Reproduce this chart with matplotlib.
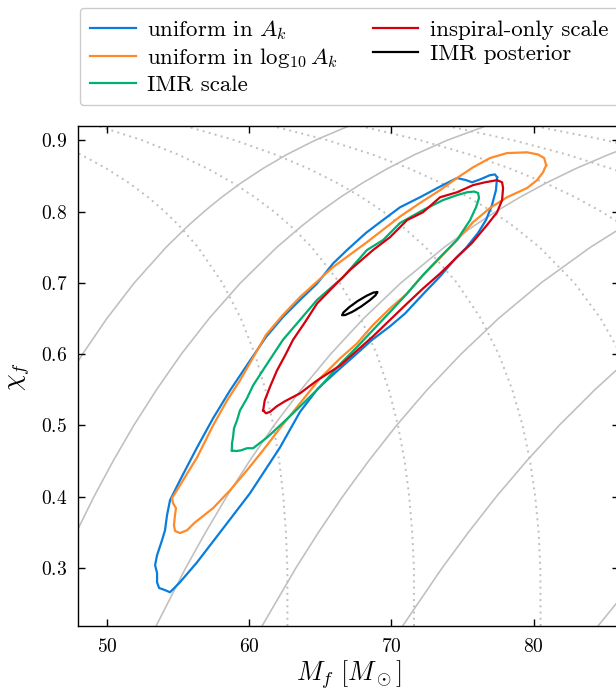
import numpy as np
import matplotlib.pyplot as plt

plt.rcParams['font.family'] = 'serif'
plt.rcParams['font.serif'] = ['cmr10']
plt.rcParams['mathtext.fontset'] = 'cm'
plt.rcParams['axes.formatter.use_mathtext'] = True

# posterior contours (M_f, chi_f)
blue_M = [77.44, 77.36, 77.08, 76.66, 76.10, 75.26, 74.55, 73.43, 72.23, 70.97, 69.91, 68.65,
          67.59, 66.40, 64.85, 63.58, 62.17, 60.07, 57.96, 56.34, 55.14, 54.44,
          54.09, 53.67, 53.53, 53.53, 53.39, 53.53, 53.88, 54.09, 54.23, 54.44,
          55.14, 56.34, 57.47, 58.66, 60.07, 61.19, 62.38, 63.58, 64.78, 65.90, 66.89,
          68.22, 69.21, 70.62, 72.02, 73.43, 74.62, 75.26, 75.68, 76.24, 76.94, 77.29, 77.44]
blue_chi = [0.848, 0.830, 0.809, 0.788, 0.770, 0.749, 0.735, 0.709, 0.684, 0.657, 0.639, 0.620,
            0.601, 0.580, 0.552, 0.519, 0.469, 0.405, 0.350, 0.308, 0.280, 0.266,
            0.269, 0.272, 0.280, 0.293, 0.304, 0.318, 0.339, 0.353, 0.374, 0.395,
            0.423, 0.469, 0.510, 0.549, 0.591, 0.624, 0.652, 0.676, 0.699, 0.727, 0.746,
            0.770, 0.785, 0.806, 0.820, 0.835, 0.847, 0.844, 0.841, 0.845, 0.851, 0.852, 0.848]

orange_M = [80.89, 80.67, 80.25, 79.55, 78.14, 76.94, 75.75, 74.62, 73.43, 72.02, 71.11, 69.91,
            68.72, 67.59, 66.40, 64.99, 63.58, 62.17, 60.98, 59.85, 58.66, 57.47, 56.20,
            55.64, 55.14, 54.79, 54.72, 54.79, 54.86, 54.65, 54.58,
            55.14, 56.34, 57.47, 58.45, 59.36, 61.19, 62.38, 63.58, 65.90, 68.29, 70.62,
            72.02, 73.43, 74.62, 75.75, 76.94, 78.14, 79.55, 80.32, 80.75, 80.89]
orange_chi = [0.865, 0.855, 0.844, 0.833, 0.820, 0.805, 0.785, 0.760, 0.735, 0.706, 0.685, 0.664,
              0.641, 0.615, 0.594, 0.566, 0.531, 0.496, 0.465, 0.437, 0.409, 0.384, 0.364,
              0.353, 0.349, 0.352, 0.360, 0.374, 0.384, 0.391, 0.398,
              0.416, 0.455, 0.500, 0.535, 0.563, 0.627, 0.655, 0.680, 0.722, 0.757, 0.793,
              0.812, 0.830, 0.847, 0.862, 0.875, 0.882, 0.883, 0.880, 0.875, 0.865]

green_M = [58.79, 58.80, 58.87, 58.94, 59.15, 59.36, 59.85, 60.28, 61.19, 62.38, 63.58, 64.78,
           66.61, 68.29, 69.42, 70.62, 72.23, 73.64, 74.62, 75.33, 75.82, 76.10, 76.17, 75.96,
           75.54, 74.62, 73.43, 72.23, 71.11, 69.91, 68.72, 67.59, 66.40, 64.99, 63.09, 62.18,
           61.26, 60.28, 59.85, 59.43, 59.08, 58.79]
green_chi = [0.465, 0.475, 0.483, 0.496, 0.507, 0.521, 0.538, 0.556, 0.584, 0.620, 0.648, 0.676,
             0.708, 0.746, 0.760, 0.784, 0.802, 0.816, 0.823, 0.827, 0.828, 0.826, 0.819, 0.806,
             0.788, 0.760, 0.736, 0.711, 0.685, 0.659, 0.634, 0.610, 0.586, 0.554, 0.517, 0.500,
             0.483, 0.468, 0.468, 0.465, 0.464, 0.465]

red_M = [60.99, 61.10, 61.47, 61.96, 62.53, 63.09, 63.94, 64.78, 65.90, 67.10, 68.72, 69.91,
         71.11, 72.23, 73.43, 74.62, 75.75, 76.59, 77.44, 77.79, 77.86, 77.79, 77.44, 76.73,
         75.68, 74.62, 73.43, 72.23, 71.11, 69.91, 68.72, 67.59, 66.40, 64.78, 63.58, 62.53,
         61.96, 61.47, 61.19, 60.99]
red_chi = [0.521, 0.535, 0.554, 0.577, 0.598, 0.620, 0.645, 0.671, 0.694, 0.718, 0.746, 0.764,
           0.788, 0.799, 0.820, 0.827, 0.837, 0.841, 0.844, 0.841, 0.833, 0.816, 0.799, 0.781,
           0.756, 0.736, 0.713, 0.692, 0.671, 0.648, 0.625, 0.605, 0.584, 0.563, 0.545, 0.534,
           0.527, 0.519, 0.517, 0.521]

imr_M = [69.00, 68.90, 68.49, 67.89, 67.26, 66.76, 66.54, 66.64, 67.04, 67.64, 68.28, 68.77, 69.00]
imr_chi = [0.6868, 0.6827, 0.6756, 0.6669, 0.6593, 0.6548, 0.6546, 0.6585, 0.6658, 0.6745,
           0.6820, 0.6865, 0.6868]

# grey background lines: constant ringdown frequency (solid) and damping time (dotted)
chi_grid = [0.21, 0.30, 0.35, 0.40, 0.45, 0.50, 0.55, 0.60, 0.65, 0.70, 0.75, 0.78, 0.80,
            0.82, 0.84, 0.86, 0.88, 0.90, 0.92]
freq_M = [
    [39.10, 40.81, 41.83, 42.92, 44.10, 45.37, 46.76, 48.29, 50.00, 51.93, 54.17, 55.71,
     56.84, 58.07, 59.43, 60.95, 62.66, 64.65, 67.02],
    [44.73, 46.68, 47.85, 49.09, 50.44, 51.89, 53.49, 55.23, 57.19, 59.40, 61.96, 63.72,
     65.01, 66.42, 67.97, 69.71, 71.67, 73.94, 76.65],
    [53.24, 55.54, 56.94, 58.42, 60.03, 61.75, 63.65, 65.73, 68.05, 70.68, 73.73, 75.82,
     77.36, 79.04, 80.89, 82.95, 85.29, 87.99, 91.22],
    [60.66, 63.29, 64.88, 66.57, 68.40, 70.37, 72.52, 74.90, 77.54, 80.54, 84.01, 86.40,
     88.15, 90.06, 92.17, 94.52, 97.18, 100.26, 103.94],
    [70.50, 73.57, 75.42, 77.38, 79.51, 81.80, 84.31, 87.06, 90.14, 93.62, 97.65, 100.43,
     102.46, 104.69, 107.14, 109.87, 112.97, 116.55, 120.82],
    [84.18, 87.85, 90.06, 92.40, 94.94, 97.67, 100.7, 104.0, 107.6, 111.8, 116.6, 119.9,
     122.3, 125.0, 127.9, 131.2, 134.9, 139.2, 144.3],
]
damp_M = [
    [62.70, 62.69, 62.59, 62.41, 62.12, 61.71, 61.15, 60.41, 59.42, 58.12, 56.40, 55.09,
     54.07, 52.90, 51.56, 50.00, 48.16, 45.95, 43.23],
    [71.60, 71.59, 71.47, 71.26, 70.94, 70.47, 69.83, 68.98, 67.86, 66.37, 64.40, 62.91,
     61.74, 60.41, 58.88, 57.10, 55.00, 52.48, 49.37],
    [80.50, 80.48, 80.36, 80.12, 79.76, 79.23, 78.51, 77.55, 76.29, 74.62, 72.41, 70.73,
     69.42, 67.92, 66.20, 64.20, 61.83, 59.00, 55.50],
    [89.40, 89.38, 89.24, 88.98, 88.58, 87.99, 87.19, 86.13, 84.72, 82.87, 80.42, 78.55,
     77.09, 75.43, 73.51, 71.30, 68.67, 65.52, 61.64],
    [98.30, 98.28, 98.12, 97.84, 97.40, 96.75, 95.87, 94.70, 93.16, 91.12, 88.42, 86.37,
     84.76, 82.94, 80.83, 78.39, 75.50, 72.04, 67.78],
    [107.2, 107.2, 107.0, 106.7, 106.2, 105.5, 104.6, 103.3, 101.6, 99.37, 96.43, 94.19,
     92.44, 90.44, 88.15, 85.49, 82.34, 78.57, 73.91],
    [116.1, 116.1, 115.9, 115.6, 115.0, 114.3, 113.2, 111.9, 110.0, 107.6, 104.4, 102.0,
     100.1, 97.95, 95.47, 92.59, 89.18, 85.09, 80.05],
]

fig = plt.figure(figsize=(6.16, 6.94), dpi=100)
ax = fig.add_axes([0.1273, 0.0973, 0.8773, 0.7212])

for Ms in freq_M:
    ax.plot(Ms, chi_grid, color='#bfbfbf', lw=1.15, zorder=1)
for Ms in damp_M:
    ax.plot(Ms, chi_grid, color='#bfbfbf', lw=1.4, ls=(0, (1, 2.2)), zorder=1)

ax.plot(blue_M, blue_chi, color='#0a7ddc', lw=1.6, label=r'uniform in $A_k$')
ax.plot(orange_M, orange_chi, color='#ff8a2a', lw=1.6, label=r'uniform in $\log_{10} A_k$')
ax.plot(green_M, green_chi, color='#00b070', lw=1.6, label='IMR scale')
ax.plot(red_M, red_chi, color='#d4000e', lw=1.6, label='inspiral-only scale')
ax.plot(imr_M, imr_chi, color='black', lw=1.6, label='IMR posterior')

ax.set_xlim(48, 86)
ax.set_ylim(0.218, 0.92)
ax.set_xticks([50, 60, 70, 80])
ax.set_yticks([0.3, 0.4, 0.5, 0.6, 0.7, 0.8, 0.9])
ax.tick_params(direction='in', top=True, right=True, length=5, width=1, labelsize=14, pad=8)
for sp in ax.spines.values():
    sp.set_linewidth(1.0)
ax.set_xlabel(r'$M_f\ [M_\odot]$', fontsize=19, labelpad=2)
ax.set_ylabel(r'$\chi_f$', fontsize=19, labelpad=6)

fig.legend(loc='upper left', bbox_to_anchor=(79.5 / 616, 1 - 7.5 / 694), ncol=2, fontsize=16.5,
           handlelength=2.0, handletextpad=0.5, columnspacing=1.5, labelspacing=0.2,
           borderpad=0.45, borderaxespad=0, fancybox=True, edgecolor='#cccccc', framealpha=1)

plt.savefig('out.png', dpi=100)
